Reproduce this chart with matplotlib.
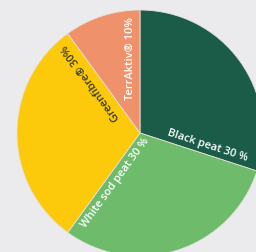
import numpy as np
import matplotlib
matplotlib.use("Agg")
import matplotlib.pyplot as plt

labels = ["Black peat 30 %", "White sod peat 30 %", "Greenfibre® 30%", "TerrAktiv® 10%"]
values = [30, 30, 30, 10]
colors = ["#1a5c48", "#6dbb6b", "#fdca0b", "#ef916b"]
text_colors = ["white", "white", "#3a3a2a", "white"]

fig = plt.figure(figsize=(2.56, 2.53), dpi=100)
fig.patch.set_facecolor("#ebebee")
ax = fig.add_axes([0, 0, 1, 1])
ax.set_facecolor("#ebebee")

wedges, _ = ax.pie(values, colors=colors, startangle=90, counterclock=False,
                   radius=1.0, wedgeprops=dict(linewidth=0.6, edgecolor="#e8e0d8"))

px = 123.0
ax.set_xlim(-140 / px, (256 - 140) / px)
ax.set_ylim(-(253 - 134) / px, 134 / px)
ax.set_aspect("auto")
ax.axis("off")

fs = 8.0
font = dict(family=["Open Sans", "DejaVu Sans"], fontweight="semibold", fontsize=fs)

def place(angle_deg, r, off, rot, ha, va, text, color):
    a = np.radians(angle_deg)
    t = np.radians(rot)
    nx, ny = -np.sin(t), np.cos(t)
    x = r * np.cos(a) + off * nx
    y = r * np.sin(a) + off * ny
    ax.text(x, y, text, rotation=rot, rotation_mode="anchor", ha=ha, va=va,
            color=color, **font)

place(-18, 0.89, 0.03, -18, "right", "bottom", labels[0], text_colors[0])
place(-126, 0.88, -0.03, 54, "left", "top", labels[1], text_colors[1])
place(126, 0.94, 0.03, 126, "right", "bottom", labels[2], text_colors[2])
place(90, 0.95, 0.03, 90, "right", "bottom", labels[3], text_colors[3])

fig.savefig("out.png", dpi=100, facecolor=fig.get_facecolor())
